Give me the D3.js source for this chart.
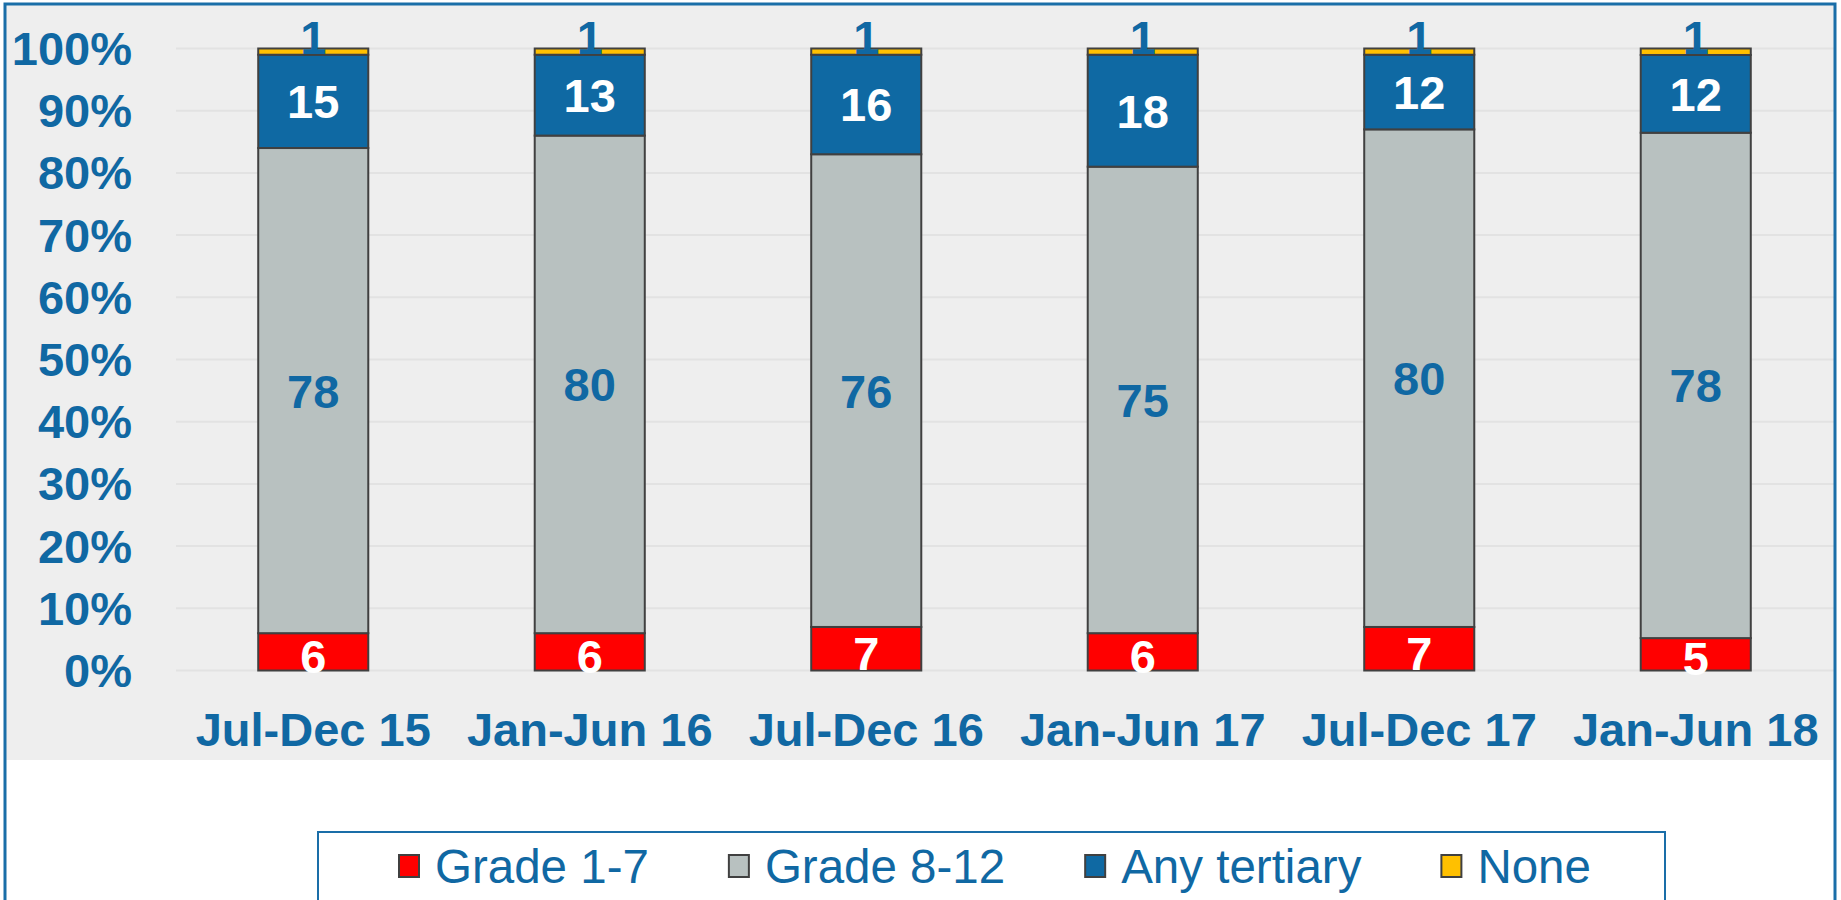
<!DOCTYPE html>
<meta charset="utf-8">
<style>
    body {
        margin: 0;
        background: #fff;
    }

    svg {
        display: block;
        font-family: "Liberation Sans", Arial, sans-serif;
    }

    .axis text {
        font-size: 47px;
        font-weight: bold;
        fill: #1068a3;
    }

    .label {
        font-size: 47px;
        font-weight: bold;
    }

    .legend text {
        font-size: 47.5px;
        fill: #1068a3;
    }
</style>

<body>
    <script src="https://cdnjs.cloudflare.com/ajax/libs/d3/7.8.5/d3.min.js"></script>
    <script>

        var periods = ["Jul-Dec 15", "Jan-Jun 16", "Jul-Dec 16", "Jan-Jun 17", "Jul-Dec 17", "Jan-Jun 18"];
        var seriesNames = ["Grade 1-7", "Grade 8-12", "Any tertiary", "None"];

        var grade1to7 = [6, 6, 7, 6, 7, 5];
        var grade8to12 = [78, 80, 76, 75, 80, 78];
        var anyTertiary = [15, 13, 16, 18, 12, 12];
        var none = [1, 1, 1, 1, 1, 1];

        var yTicks = [0, 0.1, 0.2, 0.3, 0.4, 0.5, 0.6, 0.7, 0.8, 0.9, 1];

        var colors = ["#ff0000", "#b8c1c0", "#0f69a3", "#ffc000"];
        var labelColors = ["#ffffff", "#1068a3", "#ffffff", "#1068a3"];

        var width = 1841,
            height = 900;

        // rows for d3.stack
        var rows = periods.map(function (p, i) {
            return {
                period: p,
                "Grade 1-7": grade1to7[i],
                "Grade 8-12": grade8to12[i],
                "Any tertiary": anyTertiary[i],
                "None": none[i]
            };
        });

        var stack = d3.stack()
            .keys(seriesNames)
            .offset(d3.stackOffsetExpand);
        var layers = stack(rows);

        var svg = d3.select("body")
            .append("svg")
            .attr("width", width)
            .attr("height", height);

        // plot background
        svg.append("rect")
            .attr("x", 5).attr("y", 4)
            .attr("width", 1830).attr("height", 756)
            .attr("fill", "#eeeeee");

        var x = d3.scaleBand()
            .domain(periods)
            .range([175, 1834])
            .paddingInner(0.602)
            .paddingOuter(0.301);

        var y = d3.scaleLinear()
            .domain([0, 1])
            .range([670.5, 48.5]);

        /* ------- GRIDLINES -------*/
        svg.append("g")
            .selectAll("line")
            .data(yTicks)
            .enter()
            .append("line")
            .attr("x1", 176)
            .attr("x2", 1834)
            .attr("y1", function (d) { return y(d); })
            .attr("y2", function (d) { return y(d); })
            .attr("stroke", "#e2e2e2")
            .attr("stroke-width", 2);

        /* ------- AXES -------*/
        var yAxis = svg.append("g")
            .attr("class", "axis")
            .attr("transform", "translate(176,0)")
            .call(d3.axisLeft(y).tickValues(yTicks).tickFormat(d3.format(".0%")).tickSize(0).tickPadding(44));
        yAxis.select(".domain").remove();
        yAxis.selectAll("text").attr("dy", "0.34em");

        var xAxis = svg.append("g")
            .attr("class", "axis")
            .attr("transform", "translate(0," + y(0) + ")")
            .call(d3.axisBottom(x).tickSize(0).tickPadding(42));
        xAxis.select(".domain").remove();
        xAxis.selectAll("text").attr("dy", "0.71em");

        /* ------- BARS -------*/
        var groups = svg.append("g")
            .selectAll("g")
            .data(layers)
            .enter()
            .append("g")
            .attr("fill", function (d, i) { return colors[i]; });

        groups.selectAll("rect")
            .data(function (d) { return d; })
            .enter()
            .append("rect")
            .attr("x", function (d) { return x(d.data.period); })
            .attr("width", x.bandwidth())
            .attr("y", function (d) { return y(d[1]); })
            .attr("height", function (d) { return y(d[0]) - y(d[1]); })
            .attr("stroke", "#404040")
            .attr("stroke-width", 2);

        /* ------- DATA LABELS -------*/
        layers.forEach(function (layer, si) {
            svg.append("g")
                .selectAll("text")
                .data(layer)
                .enter()
                .append("text")
                .attr("class", "label")
                .attr("text-anchor", "middle")
                .attr("fill", labelColors[si])
                .attr("x", function (d) { return x(d.data.period) + x.bandwidth() / 2; })
                .attr("y", function (d) { return (y(d[0]) + y(d[1])) / 2; })
                .attr("dy", si === 3 ? "0.05em" : (si === 0 ? "0.45em" : "0.36em"))
                .text(function (d) { return d.data[layer.key]; });
        });

        /* ------- LEGEND -------*/
        svg.append("rect")
            .attr("x", 318).attr("y", 832)
            .attr("width", 1347).attr("height", 80)
            .attr("fill", "#fff")
            .attr("stroke", "#1a6ea8")
            .attr("stroke-width", 2);

        var legend = svg.append("g")
            .attr("class", "legend")
            .attr("transform", "translate(399,866)");
        var lx = 0;
        seriesNames.forEach(function (name, i) {
            var item = legend.append("g").attr("transform", "translate(" + lx + ",0)");
            item.append("rect")
                .attr("x", 0).attr("y", -11)
                .attr("width", 20).attr("height", 22)
                .attr("fill", colors[i])
                .attr("stroke", "#404040")
                .attr("stroke-width", 2);
            var t = item.append("text")
                .attr("x", 36)
                .attr("dy", "0.36em")
                .text(name);
            lx += 36 + t.node().getComputedTextLength() + 80;
        });

        // outer frame
        svg.append("rect")
            .attr("x", 5).attr("y", 4)
            .attr("width", 1830).attr("height", 910)
            .attr("fill", "none")
            .attr("stroke", "#1a6ea8")
            .attr("stroke-width", 3);

    </script>
</body>
